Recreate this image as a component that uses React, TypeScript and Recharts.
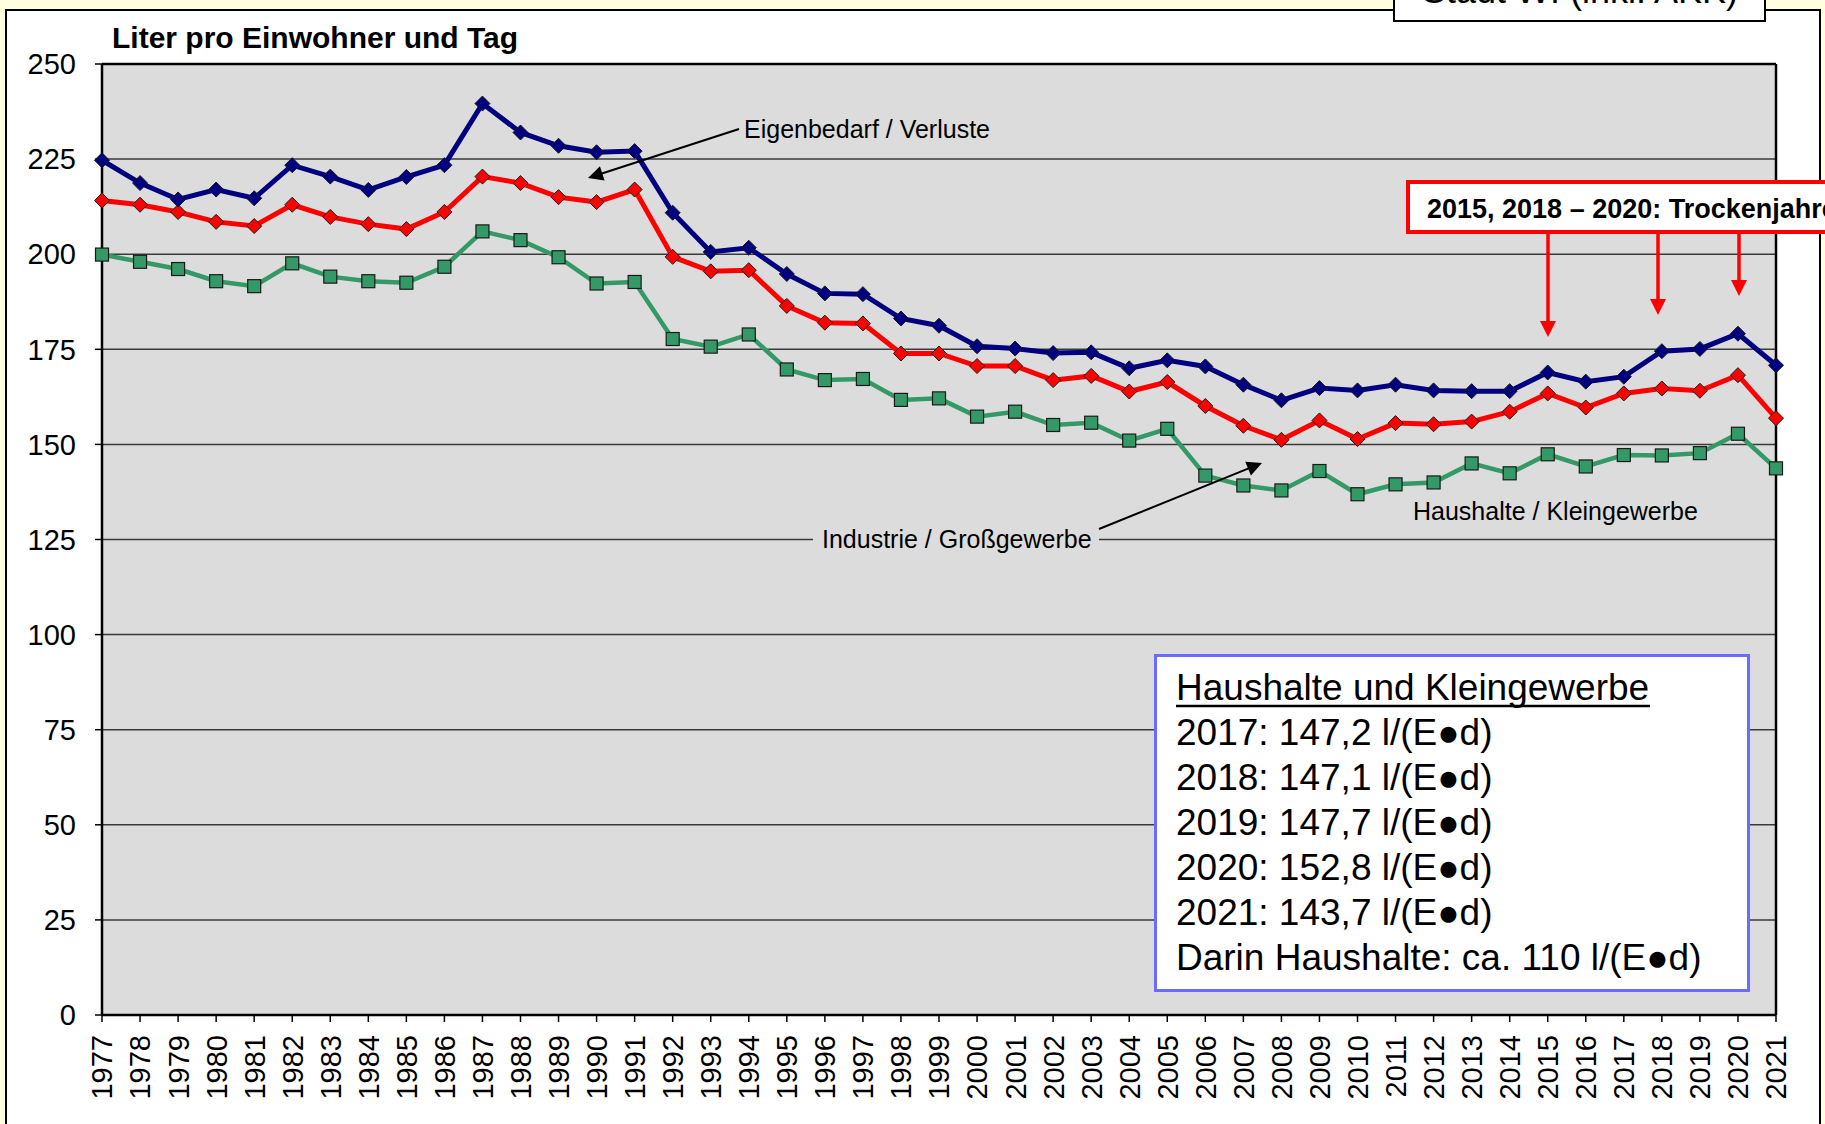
import React from "react";
import { LineChart, Line, XAxis, YAxis, CartesianGrid, ReferenceLine } from "recharts";

const years = [
  "1977", "1978", "1979", "1980", "1981", "1982", "1983", "1984", "1985", "1986", "1987",
  "1988", "1989", "1990", "1991", "1992", "1993", "1994", "1995", "1996", "1997", "1998",
  "1999", "2000", "2001", "2002", "2003", "2004", "2005", "2006", "2007", "2008", "2009",
  "2010", "2011", "2012", "2013", "2014", "2015", "2016", "2017", "2018", "2019", "2020", "2021",
];

// blue: incl. Eigenbedarf / Verluste (total)
const gesamt = [
  224.7, 218.7, 214.4, 217.0, 214.7, 223.4, 220.4, 216.9, 220.3, 223.4, 239.6, 232.0, 228.5, 226.8, 227.1,
  210.9, 200.6, 201.7, 194.8, 189.7, 189.5, 183.1, 181.2, 175.8, 175.2, 174.0, 174.2, 170.0, 172.1,
  170.5, 165.7, 161.6, 164.8, 164.2, 165.7, 164.2, 164.0, 164.0, 168.9, 166.5, 167.8, 174.5, 175.1, 179.1, 170.8,
];

// red: incl. Industrie / Großgewerbe
const mitIndustrie = [
  214.1, 213.0, 211.1, 208.5, 207.4, 213.0, 209.8, 207.9, 206.6, 211.1, 220.4, 218.7, 215.0, 213.7, 217.0,
  199.3, 195.5, 195.8, 186.4, 182.0, 181.8, 173.9, 173.9, 170.6, 170.6, 166.9, 168.0, 163.9, 166.4,
  160.1, 154.9, 151.2, 156.3, 151.4, 155.6, 155.3, 156.0, 158.6, 163.4, 159.7, 163.4, 164.7, 164.1, 168.2, 156.9,
];

// green: Haushalte / Kleingewerbe
const haushalte = [
  199.9, 198.0, 196.1, 192.9, 191.6, 197.6, 194.1, 192.9, 192.5, 196.7, 206.0, 203.7, 199.2, 192.3, 192.7,
  177.7, 175.7, 178.9, 169.7, 166.9, 167.2, 161.7, 162.1, 157.3, 158.6, 155.1, 155.7, 151.0, 154.1,
  141.8, 139.2, 137.9, 143.0, 136.9, 139.5, 140.0, 145.0, 142.4, 147.4, 144.2, 147.2, 147.1, 147.7, 152.8, 143.7,
];

const yTicks = [0, 25, 50, 75, 100, 125, 150, 175, 200, 225, 250];

const infoTitle = "Haushalte und Kleingewerbe";
const infoLines = [
  "2017: 147,2 l/(E\u25CFd)",
  "2018: 147,1 l/(E\u25CFd)",
  "2019: 147,7 l/(E\u25CFd)",
  "2020: 152,8 l/(E\u25CFd)",
  "2021: 143,7 l/(E\u25CFd)",
  "Darin Haushalte: ca. 110 l/(E\u25CFd)",
];

const data = years.map((year, i) => ({
  year,
  gesamt: gesamt[i],
  mitIndustrie: mitIndustrie[i],
  haushalte: haushalte[i],
}));

const FONT = "Arial, 'Liberation Sans', Helvetica, sans-serif";

function diamondDot(fill: string) {
  return (props: any) => {
    const { cx, cy, index } = props;
    const r = 7.5;
    return (
      <path
        key={`dm-${fill}-${index}`}
        d={`M${cx},${cy - r}L${cx + r},${cy}L${cx},${cy + r}L${cx - r},${cy}Z`}
        fill={fill}
        stroke="#1a1a1a"
        strokeWidth={1}
      />
    );
  };
}

function squareDot(props: any) {
  const { cx, cy, index } = props;
  const s = 13;
  return (
    <rect
      key={`sq-${index}`}
      x={cx - s / 2}
      y={cy - s / 2}
      width={s}
      height={s}
      fill="#339966"
      stroke="#1a1a1a"
      strokeWidth={1.2}
    />
  );
}

function YearTick(props: any) {
  const { x, y, payload } = props;
  return (
    <text
      x={0}
      y={0}
      dy="0.36em"
      textAnchor="end"
      transform={`translate(${x},${y + 11}) rotate(-90)`}
      fontSize={29}
      fontFamily={FONT}
      fill="#000"
    >
      {payload.value}
    </text>
  );
}

function Arrowhead({ x, y, angle, color, w = 16, h = 16 }: any) {
  return (
    <path
      d={`M0,0L${-h},${-w / 2}L${-h},${w / 2}Z`}
      transform={`translate(${x},${y}) rotate(${angle})`}
      fill={color}
    />
  );
}

function Arrow({ x1, y1, x2, y2, color = "#000", width = 2, head = 15 }: any) {
  const angle = (Math.atan2(y2 - y1, x2 - x1) * 180) / Math.PI;
  const len = Math.hypot(x2 - x1, y2 - y1);
  const ex = x1 + ((x2 - x1) * (len - head + 2)) / len;
  const ey = y1 + ((y2 - y1) * (len - head + 2)) / len;
  return (
    <g>
      <line x1={x1} y1={y1} x2={ex} y2={ey} stroke={color} strokeWidth={width} />
      <Arrowhead x={x2} y={y2} angle={angle} color={color} w={head} h={head} />
    </g>
  );
}

export default function App() {
  return (
    <div
      style={{
        position: "absolute",
        left: 0,
        top: 0,
        width: 1825,
        height: 1124,
        overflow: "hidden",
        background: "#FFFFE0",
        fontFamily: FONT,
      }}
    >
      <div
        style={{
          position: "absolute",
          left: 5,
          top: 9,
          width: 1816,
          height: 1140,
          background: "#fff",
          border: "2px solid #000",
          boxSizing: "border-box",
        }}
      />
      <div style={{ position: "absolute", left: 0, top: 0 }}>
        <LineChart
          width={1825}
          height={1124}
          data={data}
          margin={{ top: 64, right: 49, bottom: 9, left: 42 }}
        >
          <CartesianGrid
            vertical={false}
            stroke="#3a3a3a"
            strokeWidth={1.5}
            fill="#DCDCDC"
            fillOpacity={1}
          />
          <XAxis
            dataKey="year"
            scale="point"
            padding={{ left: 0, right: 0 }}
            interval={0}
            height={100}
            tickSize={7}
            tickLine={{ stroke: "#000", strokeWidth: 1.5 }}
            axisLine={{ stroke: "#000", strokeWidth: 2.5 }}
            tick={<YearTick />}
          />
          <YAxis
            domain={[0, 250]}
            ticks={yTicks}
            width={60}
            tickSize={7}
            tickMargin={19}
            interval={0}
            tickLine={{ stroke: "#000", strokeWidth: 1.5 }}
            axisLine={{ stroke: "#000", strokeWidth: 2.5 }}
            tick={{ fontSize: 29, fill: "#000", fontFamily: FONT }}
          />
          <ReferenceLine y={250} stroke="#000" strokeWidth={2.5} />
          <ReferenceLine x="2021" stroke="#000" strokeWidth={2.5} />
          <Line
            type="linear"
            dataKey="haushalte"
            stroke="#339966"
            strokeWidth={4.5}
            dot={squareDot}
            activeDot={false}
            isAnimationActive={false}
          />
          <Line
            type="linear"
            dataKey="mitIndustrie"
            stroke="#FF0000"
            strokeWidth={5}
            dot={diamondDot("#FF0000")}
            activeDot={false}
            isAnimationActive={false}
          />
          <Line
            type="linear"
            dataKey="gesamt"
            stroke="#000080"
            strokeWidth={5}
            dot={diamondDot("#000080")}
            activeDot={false}
            isAnimationActive={false}
          />
        </LineChart>
      </div>
      <svg
        width={1825}
        height={1124}
        style={{ position: "absolute", left: 0, top: 0, pointerEvents: "none" }}
        fontFamily={FONT}
      >
        {/* top header box, cut off like in the original */}
        <rect x={1394} y={-10} width={371} height={31} fill="#fff" stroke="#000" strokeWidth={2} />
        <text x={1422} y={3} fontSize={36} fill="#000">
          Stadt WI (inkl. AKK)
        </text>

        {/* axis title */}
        <text x={112} y={48} fontSize={30} fontWeight="bold" fill="#000">
          Liter pro Einwohner und Tag
        </text>

        {/* series labels */}
        <text x={744} y={138} fontSize={25} fill="#000">
          Eigenbedarf / Verluste
        </text>
        <Arrow x1={739} y1={129} x2={588} y2={178} />

        <rect x={813} y={530} width={286} height={18} fill="#DCDCDC" />
        <text x={822} y={548} fontSize={25} fill="#000">
          Industrie / Großgewerbe
        </text>
        <Arrow x1={1099} y1={529} x2={1262} y2={463} />

        <text x={1413} y={520} fontSize={25} fill="#000">
          Haushalte / Kleingewerbe
        </text>

        {/* dry years callout */}
        <rect x={1408} y={182} width={440} height={50} fill="#fff" stroke="#FF0000" strokeWidth={4} />
        <text x={1427} y={218} fontSize={27} fontWeight="bold" fill="#000">
          2015, 2018 – 2020: Trockenjahre
        </text>
        <Arrow x1={1548} y1={233} x2={1548} y2={337} color="#FF0000" width={3.5} head={16} />
        <Arrow x1={1658} y1={233} x2={1658} y2={315} color="#FF0000" width={3.5} head={16} />
        <Arrow x1={1739} y1={233} x2={1739} y2={296} color="#FF0000" width={3.5} head={16} />

        {/* info box */}
        <rect x={1155.5} y={655.5} width={593} height={335} fill="#fff" stroke="#6B6BFF" strokeWidth={3} />
        <text x={1176} y={700} fontSize={37} fill="#000">
          {infoTitle}
        </text>
        <line x1={1176} y1={706} x2={1650} y2={706} stroke="#000" strokeWidth={2.5} />
        {infoLines.map((t, i) => (
          <text key={t} x={1176} y={745 + i * 45} fontSize={37} fill="#000">
            {t}
          </text>
        ))}
      </svg>
    </div>
  );
}
